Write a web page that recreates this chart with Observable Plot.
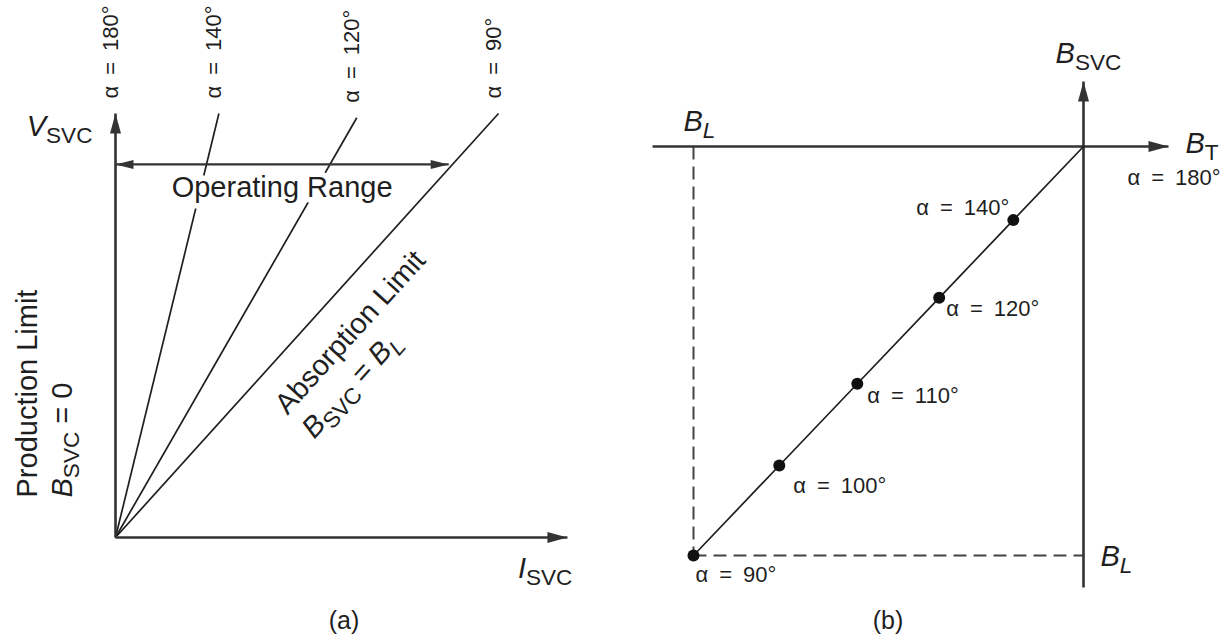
<!DOCTYPE html>
<html>
<head>
<meta charset="utf-8">
<script src="https://cdn.jsdelivr.net/npm/d3@7"></script>
<script src="https://cdn.jsdelivr.net/npm/@observablehq/plot@0.6"></script>
<style>
  html, body { margin: 0; padding: 0; background: #fff; }
  #wrap { position: relative; width: 1232px; height: 640px; overflow: hidden;
          font-family: "Liberation Sans", Arial, Helvetica, sans-serif; color: #1f1f1f; }
  .panel { position: absolute; top: 0; width: 616px; height: 600px; }
  .cap { position: absolute; top: 600px; height: 40px; line-height: 40px; width: 100px;
         text-align: center; font-size: 25px; }
</style>
</head>
<body>
<div id="wrap">
  <div id="pa" class="panel" style="left:0"></div>
  <div id="pb" class="panel" style="left:616px"></div>
  <div class="cap" style="left:294px">(a)</div>
  <div class="cap" style="left:838px">(b)</div>
</div>
<script>
// ---------------- data: panel (a) V–I characteristic ----------------
const alphaA   = [180, 140, 120, 90];      // firing angle of each straight line (deg)
const lineTopI = [0, 0.27, 0.63, 1.0];     // I_SVC where each line ends (top)
const lineTopV = [1, 1, 0.99, 1];          // V_SVC where each line ends (top)
const operatingV    = 0.88;                // V_SVC level of the "Operating Range" arrow
const operatingIEnd = 0.87;                // I_SVC at the right end of that arrow
const axisTipA = {I: 1.18, V: 1.0};        // tips of the I_SVC and V_SVC axes
const absorptionAt = 0.36;                 // where the "Absorption Limit" text starts on the α=90° line

// ---------------- data: panel (b) B_SVC versus firing angle ----------------
const alphaB = [90, 100, 110, 120, 140, 180];
const bSVC   = [-1, -0.78, -0.58, -0.37, -0.18, 0];   // in units of |B_L|
const bL = -1;
const axisB = {tMin: -1.105, tMax: 0.218, sMin: -1.078, sMax: 0.159};

// ---------------- styling ----------------
const FONT = '"Liberation Sans", Arial, Helvetica, sans-serif';
const INK = "#1f1f1f", AXIS = "#333";
const BIG = 29, SMALL = 22;
const alphaText = a => `α\u2002=\u2002${a}°`;

function arrowHead(len, wid) {
  return {draw(ctx) { ctx.moveTo(0, 0); ctx.lineTo(wid / 2, len); ctx.lineTo(-wid / 2, len); ctx.closePath(); }};
}
const headAxis = arrowHead(20, 11), headRange = arrowHead(18, 9);
const zero = () => 0;

// ---------------- panel (a) ----------------
const linesA = alphaA.map((a, i) => ({alpha: a, I: lineTopI[i], V: lineTopV[i]}));
const xA = {domain: [0, 1], range: [115, 498]};
const yA = {domain: [0, 1], range: [537, 113]};
const angA = Math.atan2(yA.range[0] - yA.range[1], xA.range[1] - xA.range[0]) * 180 / Math.PI;
const perp = d => [d * Math.sin(angA * Math.PI / 180), d * Math.cos(angA * Math.PI / 180)];
const line90 = linesA.find(d => d.alpha === 90);
const absPt = [{I: line90.I * absorptionAt, V: line90.V * absorptionAt}];
const opData = [{I0: 0, I1: operatingIEnd, V: operatingV}];

const plotA = Plot.plot({
  width: 616, height: 600,
  x: {...xA, axis: null}, y: {...yA, axis: null},
  style: {fontFamily: FONT, color: INK, background: "transparent", overflow: "visible"},
  marks: [
    Plot.link(linesA.filter(d => d.alpha !== 180), {x1: zero, y1: zero, x2: "I", y2: "V", stroke: INK, strokeWidth: 1.7}),
    Plot.link([axisTipA], {x1: zero, y1: zero, x2: zero, y2: "V", stroke: AXIS, strokeWidth: 2.6}),
    Plot.link([axisTipA], {x1: zero, y1: zero, x2: "I", y2: zero, stroke: AXIS, strokeWidth: 2.6}),
    Plot.dot([axisTipA], {x: zero, y: "V", symbol: headAxis, rotate: 0, fill: AXIS, stroke: "none"}),
    Plot.dot([axisTipA], {x: "I", y: zero, symbol: headAxis, rotate: 90, fill: AXIS, stroke: "none"}),
    Plot.link(opData, {x1: "I0", x2: "I1", y1: "V", y2: "V", stroke: AXIS, strokeWidth: 2.2}),
    Plot.dot(opData, {x: "I0", y: "V", symbol: headRange, rotate: -90, fill: AXIS, stroke: "none"}),
    Plot.dot(opData, {x: "I1", y: "V", symbol: headRange, rotate: 90, fill: AXIS, stroke: "none"}),
    Plot.text(opData, {x: d => (d.I0 + d.I1) / 2, y: "V", text: () => "Operating Range", fontSize: BIG,
      textAnchor: "middle", lineAnchor: "bottom", dy: 33, fill: INK, stroke: "white", strokeWidth: 11,
      strokeLinejoin: "round", paintOrder: "stroke"}),
    Plot.text(linesA, {x: "I", y: "V", text: d => alphaText(d.alpha), rotate: -90, textAnchor: "start",
      lineAnchor: "bottom", dx: 2, dy: -15, fontSize: SMALL, fill: INK}),
    Plot.text([axisTipA], {x: zero, y: "V", text: () => "*V*_{SVC}", textAnchor: "end", lineAnchor: "bottom",
      dx: -23, dy: 22, fontSize: BIG, fill: INK}),
    Plot.text([axisTipA], {x: "I", y: zero, text: () => "*I*_{SVC}", textAnchor: "end", lineAnchor: "bottom",
      dx: 5, dy: 40, fontSize: BIG, fill: INK}),
    Plot.text(["Production Limit"], {x: zero, y: zero, text: d => d, rotate: -90, textAnchor: "start",
      lineAnchor: "bottom", dx: -79, dy: -40, fontSize: BIG, fill: INK}),
    Plot.text(["*B*_{SVC} = 0"], {x: zero, y: zero, text: d => d, rotate: -90, textAnchor: "start",
      lineAnchor: "bottom", dx: -44, dy: -40, fontSize: BIG, fill: INK}),
    Plot.text(absPt, {x: "I", y: "V", text: () => "Absorption Limit", rotate: -angA, textAnchor: "start",
      lineAnchor: "bottom", dx: perp(46)[0], dy: perp(46)[1], fontSize: BIG, fill: INK}),
    Plot.text(absPt, {x: "I", y: "V", text: () => "*B*_{SVC} = *B*_{*L*}", rotate: -angA, textAnchor: "start",
      lineAnchor: "bottom", dx: perp(82)[0], dy: perp(82)[1], fontSize: BIG, fill: INK})
  ]
});

// ---------------- panel (b) ----------------
const ptsB = alphaB.map((a, i) => ({alpha: a, b: bSVC[i]}));
const xB = {domain: [-1, 0], range: [77, 467]};
const yB = {domain: [-1, 0], range: [555, 146]};
const labOff = {90: [2, 26, "start"], 100: [14, 27, "start"], 110: [10, 19, "start"],
                120: [7, 18, "start"], 140: [-4, -5, "end"], 180: [44, 38, "start"]};

const plotB = Plot.plot({
  width: 616, height: 600,
  x: {...xB, axis: null}, y: {...yB, axis: null},
  style: {fontFamily: FONT, color: INK, background: "transparent", overflow: "visible"},
  marks: [
    Plot.link([bL], {x1: d => d, y1: zero, x2: d => d, y2: d => d, stroke: "#444", strokeWidth: 2, strokeDasharray: "13,7"}),
    Plot.link([bL], {x1: d => d, y1: d => d, x2: zero, y2: d => d, stroke: "#444", strokeWidth: 2, strokeDasharray: "13,7"}),
    Plot.link([axisB], {x1: "tMin", x2: "tMax", y1: zero, y2: zero, stroke: AXIS, strokeWidth: 2.6}),
    Plot.link([axisB], {x1: zero, x2: zero, y1: "sMin", y2: "sMax", stroke: AXIS, strokeWidth: 2.6}),
    Plot.dot([axisB], {x: "tMax", y: zero, symbol: headAxis, rotate: 90, fill: AXIS, stroke: "none"}),
    Plot.dot([axisB], {x: zero, y: "sMax", symbol: headAxis, rotate: 0, fill: AXIS, stroke: "none"}),
    Plot.line(ptsB, {x: "b", y: "b", stroke: INK, strokeWidth: 1.7}),
    Plot.dot(ptsB.filter(d => d.alpha !== 180), {x: "b", y: "b", r: 6, fill: "#111", stroke: "none"}),
    ...ptsB.map(d => Plot.text([d], {x: "b", y: "b", text: p => alphaText(p.alpha), fontSize: SMALL, fill: INK,
      lineAnchor: "bottom", textAnchor: labOff[d.alpha][2], dx: labOff[d.alpha][0], dy: labOff[d.alpha][1]})),
    Plot.text([axisB], {x: zero, y: "sMax", text: () => "*B*_{SVC}", textAnchor: "middle", lineAnchor: "bottom",
      dx: 5, dy: -18, fontSize: BIG, fill: INK}),
    Plot.text([axisB], {x: "tMax", y: zero, text: () => "*B*_{T}", textAnchor: "start", lineAnchor: "bottom",
      dx: 17, dy: 6, fontSize: BIG, fill: INK}),
    Plot.text([bL], {x: d => d, y: zero, text: () => "*B*_{*L*}", textAnchor: "start", lineAnchor: "bottom",
      dx: -10, dy: -16, fontSize: BIG, fill: INK}),
    Plot.text([bL], {x: zero, y: d => d, text: () => "*B*_{*L*}", textAnchor: "start", lineAnchor: "bottom",
      dx: 17, dy: 10, fontSize: BIG, fill: INK})
  ]
});

document.getElementById("pa").appendChild(plotA);
document.getElementById("pb").appendChild(plotB);

// ---------- turn *italic* and _{subscript} markup into real tspans ----------
const NS = "http://www.w3.org/2000/svg";
function rich(el) {
  const src = el.textContent;
  if (!/[*]|_\{/.test(src)) return;
  const fs = parseFloat(getComputedStyle(el).fontSize) || 20;
  el.textContent = "";
  let shift = 0;
  const re = /_\{([^}]*)\}|([^_]+)/g;
  let m;
  while ((m = re.exec(src))) {
    const isSub = m[1] !== undefined;
    const body = isSub ? m[1] : m[2];
    const target = isSub ? 0.24 * fs : 0;
    body.split("*").forEach((p, k) => {
      if (!p) return;
      const t = document.createElementNS(NS, "tspan");
      t.textContent = p;
      if (k % 2 === 1) t.setAttribute("font-style", "italic");
      if (isSub) t.setAttribute("font-size", (0.78 * fs).toFixed(1));
      if (target !== shift) { t.setAttribute("dy", (target - shift).toFixed(1)); shift = target; }
      el.appendChild(t);
    });
  }
}
document.querySelectorAll("#wrap svg text").forEach(rich);
</script>
</body>
</html>
